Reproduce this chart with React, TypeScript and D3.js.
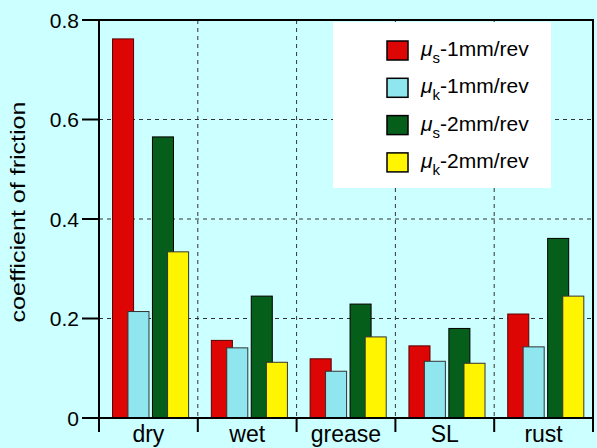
import React from "react";
import * as d3 from "d3";

const categories = ["dry", "wet", "grease", "SL", "rust"];
const muS1 = [0.762, 0.156, 0.119, 0.145, 0.209];
const muK1 = [0.214, 0.141, 0.094, 0.114, 0.143];
const muS2 = [0.565, 0.245, 0.229, 0.18, 0.361];
const muK2 = [0.334, 0.112, 0.163, 0.11, 0.245];
const yTicks = [0, 0.2, 0.4, 0.6, 0.8];
const seriesNames = [
  { sym: "s", rest: "-1mm/rev" },
  { sym: "k", rest: "-1mm/rev" },
  { sym: "s", rest: "-2mm/rev" },
  { sym: "k", rest: "-2mm/rev" },
];

const W = 597;
const H = 448;
const L = 99;
const R = 593;
const T = 20;
const B = 418;
const FONT = "'Liberation Sans', Arial, Helvetica, sans-serif";

const colors = ["#DE0505", "#90E6EE", "#065E1B", "#FFF500"];
const strokes = ["#5a0000", "#333", "#000", "#333"];
// position of each series within a band (fraction of band width)
const offsets = [0.137, 0.293, 0.541, 0.694];
const barFrac = 0.213;

export default function App() {
  const x = d3.scaleBand<string>().domain(categories).range([L, R]).paddingInner(0).paddingOuter(0);
  const y = d3.scaleLinear().domain([0, 0.8]).range([B, T]);
  const bw = x.bandwidth();
  const series = [muS1, muK1, muS2, muK2];
  const boundaries = categories.map((c) => x(c) as number).concat([R]);

  return (
    <svg width={W} height={H} style={{ position: "absolute", left: 0, top: 0 }} fontFamily={FONT}>
      <rect x={0} y={0} width={W} height={H} fill="#CCFFFF" />
      {/* grid */}
      {yTicks.slice(1, -1).map((t) => (
        <line key={"gy" + t} x1={L} x2={R} y1={y(t)} y2={y(t)} stroke="#333" strokeWidth={1} strokeDasharray="4,4" />
      ))}
      {boundaries.slice(1, -1).map((bx, i) => (
        <line key={"gx" + i} x1={bx} x2={bx} y1={T} y2={B} stroke="#333" strokeWidth={1} strokeDasharray="4,4" />
      ))}
      {/* bars */}
      {categories.map((c, ci) =>
        series.map((s, si) => {
          const bx = (x(c) as number) + offsets[si] * bw;
          const v = s[ci];
          return (
            <rect
              key={c + si}
              x={bx}
              y={y(v)}
              width={barFrac * bw}
              height={B - y(v)}
              fill={colors[si]}
              stroke={strokes[si]}
              strokeWidth={1}
            />
          );
        })
      )}
      {/* legend */}
      <rect x={333} y={22} width={218} height={166} fill="#FFFFFF" />
      {seriesNames.map((n, i) => {
        const cy = 50.5 + i * 37.3;
        return (
          <g key={"lg" + i}>
            <rect x={387} y={cy - 9.5} width={21} height={19} fill={colors[i]} stroke="#000" strokeWidth={1.5} />
            <text x={421} y={cy + 5.5} fontSize={21} fill="#000">
              <tspan fontStyle="italic">μ</tspan>
              <tspan fontSize={15} dy={7}>{n.sym}</tspan>
              <tspan dy={-7}>{n.rest}</tspan>
            </text>
          </g>
        );
      })}
      {/* frame */}
      <rect x={L} y={T} width={R - L} height={B - T} fill="none" stroke="#000" strokeWidth={2} />
      {/* y ticks */}
      {yTicks.map((t) => (
        <g key={"yt" + t}>
          <line x1={82} x2={L} y1={y(t)} y2={y(t)} stroke="#000" strokeWidth={2} />
          <text x={79} y={y(t)} dy="0.36em" textAnchor="end" fontSize={21} fill="#000">
            {t === 0 ? "0" : d3.format(".1f")(t)}
          </text>
        </g>
      ))}
      {/* x ticks */}
      {boundaries.map((bx, i) => (
        <line key={"xt" + i} x1={bx} x2={bx} y1={B} y2={432} stroke="#000" strokeWidth={2} />
      ))}
      {categories.map((c) => (
        <text key={"xl" + c} x={(x(c) as number) + bw / 2} y={442} textAnchor="middle" fontSize={23} fill="#000">
          {c}
        </text>
      ))}
      <text
        transform={`translate(25,212) rotate(-90)`}
        textAnchor="middle"
        fontSize={21}
        textLength={221}
        lengthAdjust="spacingAndGlyphs"
        fill="#000"
      >
        coefficient of friction
      </text>
    </svg>
  );
}
